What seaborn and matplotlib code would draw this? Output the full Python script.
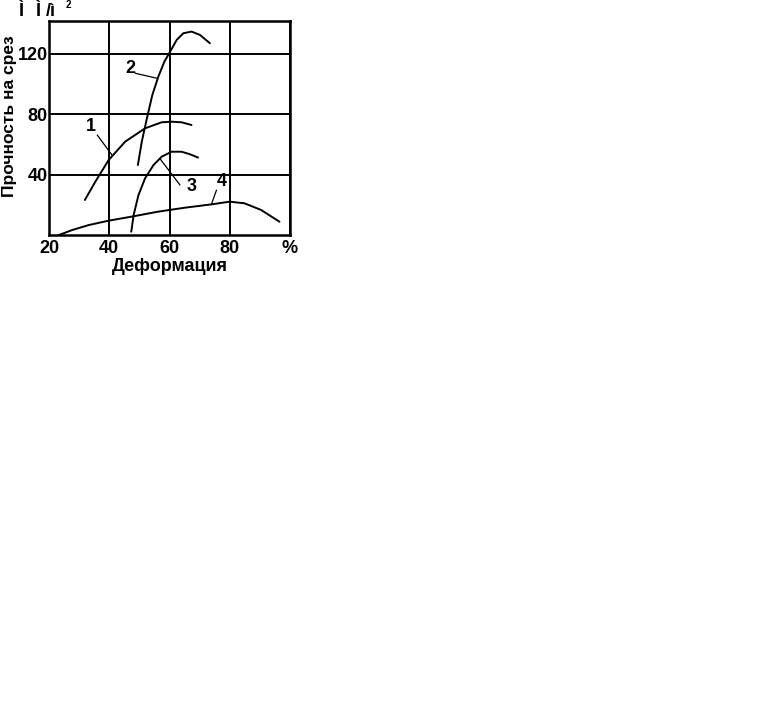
"""Shear strength vs. deformation curves (reference chart recreation)."""

import matplotlib

matplotlib.use("Agg")
import matplotlib.pyplot as plt
import pandas as pd
import seaborn as sns

# Curve 1
curve1_x = [31.9, 35.4, 39.8, 45.3, 51.9, 57.4, 60.7, 64.0, 67.3]
curve1_y = [23.2, 35.4, 49.7, 61.9, 70.7, 74.7, 75.1, 74.7, 72.9]
# Curve 2
curve2_x = [49.5, 50.8, 52.5, 54.3, 56.3, 58.3, 60.2, 62.4, 64.6, 67.3, 70.1, 73.4]
curve2_y = [46.4, 61.9, 77.3, 92.8, 105.0, 114.9, 121.5, 129.3, 133.7, 134.8, 132.6, 127.1]
# Curve 3
curve3_x = [47.3, 48.1, 49.7, 51.9, 54.7, 57.4, 60.7, 64.0, 66.8, 69.5]
curve3_y = [2.2, 13.3, 26.5, 37.6, 46.4, 51.9, 55.2, 55.2, 53.5, 51.3]
# Curve 4
curve4_x = [23.3, 27.7, 33.2, 39.8, 47.5, 56.3, 65.1, 73.9, 80.0, 84.9, 90.4, 96.5]
curve4_y = [0.0, 3.3, 6.6, 9.5, 12.2, 15.5, 18.1, 20.3, 22.1, 21.0, 16.6, 8.8]

# Curve labels and their leader lines (label point, line start, line end)
label_names = ["1", "2", "3", "4"]
label_x = [33.8, 47.0, 67.3, 77.2]
label_y = [71.8, 110.5, 32.0, 35.4]
leader_x0 = [36.0, 48.6, 63.5, 75.6]
leader_y0 = [66.3, 107.2, 33.1, 29.8]
leader_x1 = [40.9, 55.8, 56.9, 73.9]
leader_y1 = [53.0, 103.9, 50.4, 20.3]

x_ticks = [20, 40, 60, 80, 100]
x_tick_labels = ["20", "40", "60", "80", "%"]
y_ticks = [40, 80, 120]
y_tick_labels = ["40", "80", "120"]

# Unit label as it appears in the source picture (broken encoding)
unit_parts = ["Ì", "Ì", "/ì"]
unit_part_x = [18, 35, 46]

FONT = "Liberation Sans"
SIZE = 13


def build_frame() -> pd.DataFrame:
    """Collect the curves into one long-form table."""
    parts = []
    for name, xs, ys in [
        ("1", curve1_x, curve1_y),
        ("2", curve2_x, curve2_y),
        ("3", curve3_x, curve3_y),
        ("4", curve4_x, curve4_y),
    ]:
        parts.append(pd.DataFrame({"x": xs, "y": ys, "curve": name}))
    return pd.concat(parts, ignore_index=True)


def main() -> None:
    sns.set_style("white")
    plt.rcParams["font.family"] = [FONT, "DejaVu Sans"]
    plt.rcParams["font.weight"] = "bold"
    plt.rcParams["text.color"] = "black"
    plt.rcParams["axes.labelcolor"] = "black"
    plt.rcParams["xtick.color"] = "black"
    plt.rcParams["ytick.color"] = "black"

    fig = plt.figure(figsize=(7.79, 7.22), dpi=100)
    ax = fig.add_axes([0.0629, 0.6745, 0.3094, 0.2968])

    data = build_frame()
    sns.lineplot(
        data=data,
        x="x",
        y="y",
        hue="curve",
        palette=["black"] * 4,
        sort=False,
        estimator=None,
        linewidth=1.4,
        legend=False,
        ax=ax,
    )

    for i, name in enumerate(label_names):
        ax.plot(
            [leader_x0[i], leader_x1[i]],
            [leader_y0[i], leader_y1[i]],
            color="black",
            linewidth=0.9,
        )
        ax.text(
            label_x[i], label_y[i], name,
            fontsize=SIZE, fontweight="bold", ha="center", va="center",
        )

    ax.set_xlim(20, 100)
    ax.set_ylim(0, 142)
    ax.set_xticks(x_ticks)
    ax.set_xticklabels(x_tick_labels, fontsize=SIZE, fontweight="bold")
    ax.set_yticks(y_ticks)
    ax.set_yticklabels(y_tick_labels, fontsize=SIZE, fontweight="bold")
    ax.tick_params(axis="both", length=0)
    ax.tick_params(axis="x", pad=3.5)
    ax.tick_params(axis="y", pad=1)
    ax.grid(True, color="black", linewidth=1.4)
    for spine in ax.spines.values():
        spine.set_color("black")
        spine.set_linewidth(1.8)

    ax.set_xlabel("Деформация", fontsize=SIZE, fontweight="bold", labelpad=1)
    ax.set_ylabel("Прочность на срез", fontsize=12.5, fontweight="bold")
    ax.yaxis.set_label_coords(-0.132, 0.555)

    for text, px in zip(unit_parts, unit_part_x):
        fig.text(px / 779, 1 - 16 / 722, text, fontsize=SIZE,
                 fontweight="bold", ha="left", va="baseline")
    fig.text(66 / 779, 1 - 5 / 722, "2", fontsize=7, fontweight="bold",
             ha="left", va="center")

    fig.savefig("out.png", dpi=100, facecolor="white")
    plt.close(fig)


if __name__ == "__main__":
    main()
